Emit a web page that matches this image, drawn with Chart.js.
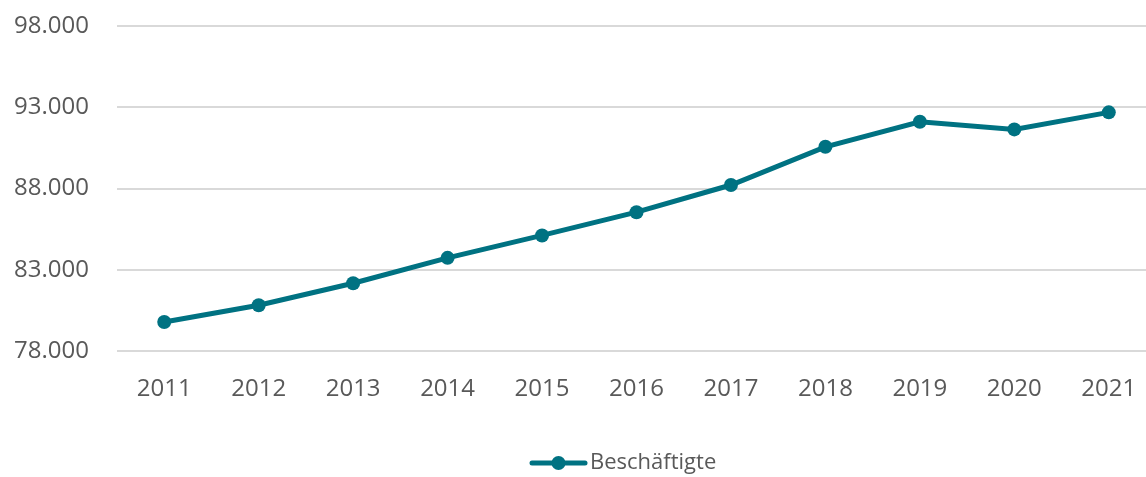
<!DOCTYPE html>
<html>
<head>
<meta charset="utf-8">
<script src="https://cdn.jsdelivr.net/npm/chart.js@4/dist/chart.umd.min.js"></script>
<style>
  html, body { margin: 0; padding: 0; background: #fff; overflow: hidden; }
</style>
</head>
<body>
<canvas id="chart" width="1163" height="477"></canvas>
<script>
// Beschäftigte per year
const years = ['2011','2012','2013','2014','2015','2016','2017','2018','2019','2020','2021'];
const employed = [79800, 80830, 82180, 83740, 85120, 86550, 88220, 90570, 92110, 91640, 92690];
const yTicks = [78000, 83000, 88000, 93000, 98000];
const seriesName = 'Beschäftigte';

const teal = '#007282';
const textGray = '#595959';
const fontFamily = '"Open Sans", "Noto Sans", sans-serif';

// move legend so its symbol starts where the original one does
const legendShift = {
  id: 'legendShift',
  afterUpdate(chart) {
    const lg = chart.legend;
    if (!lg || !lg.legendHitBoxes.length) return;
    const dx = 530 - lg.legendHitBoxes[0].left;
    const dy = 7;
    lg.left += dx;
    lg.right += dx;
    lg.top += dy;
    lg.bottom += dy;
    lg.legendHitBoxes.forEach(hb => { hb.left += dx; hb.top += dy; });
  }
};

// legend symbol: line with a round marker, drawn by hand
const legendMarker = {
  id: 'legendMarker',
  afterDraw(chart) {
    const lg = chart.legend;
    if (!lg || !lg.legendHitBoxes.length) return;
    const hb = lg.legendHitBoxes[0];
    const y = hb.top + hb.height / 2;
    const ctx = chart.ctx;
    ctx.save();
    ctx.strokeStyle = teal;
    ctx.lineWidth = 5;
    ctx.lineCap = 'round';
    ctx.beginPath();
    ctx.moveTo(hb.left + 2, y);
    ctx.lineTo(hb.left + 55, y);
    ctx.stroke();
    ctx.fillStyle = teal;
    ctx.beginPath();
    ctx.arc(hb.left + 28.5, y, 7, 0, Math.PI * 2);
    ctx.fill();
    ctx.restore();
  }
};

const ctx = document.getElementById('chart').getContext('2d');
new Chart(ctx, {
  type: 'line',
  data: {
    labels: years,
    datasets: [{
      label: seriesName,
      data: employed,
      borderColor: teal,
      backgroundColor: teal,
      borderWidth: 5,
      pointRadius: 7,
      pointHoverRadius: 7,
      pointBackgroundColor: teal,
      pointBorderWidth: 0,
      tension: 0,
      fill: false
    }]
  },
  options: {
    responsive: false,
    animation: false,
    devicePixelRatio: 1,
    layout: { padding: { top: 26, left: 13, right: 0, bottom: 0 } },
    plugins: {
      legend: {
        position: 'bottom',
        labels: {
          boxWidth: 49,
          boxHeight: 5,
          padding: 6,
          color: textGray,
          font: { family: fontFamily, size: 22 },
          generateLabels: () => [{
            text: seriesName,
            fillStyle: 'rgba(0,0,0,0)',
            strokeStyle: 'rgba(0,0,0,0)',
            fontColor: textGray,
            lineWidth: 0,
            datasetIndex: 0
          }]
        }
      },
      tooltip: { enabled: false }
    },
    scales: {
      x: {
        offset: true,
        grid: { display: false, drawTicks: false },
        border: { display: false },
        ticks: { color: textGray, font: { family: fontFamily, size: 24 }, padding: 24, maxRotation: 0 },
        afterFit: (axis) => { axis.height += 11; axis.paddingLeft = 0; axis.paddingRight = 0; }
      },
      y: {
        min: 78000,
        max: 98000,
        afterBuildTicks: (axis) => { axis.ticks = yTicks.map(v => ({ value: v })); },
        afterFit: (axis) => { axis.width = 104; axis.paddingTop = 0; axis.paddingBottom = 0; },
        grid: { color: '#d9d9d9', lineWidth: 2, drawTicks: false },
        border: { display: false },
        ticks: {
          color: textGray,
          font: { family: fontFamily, size: 24 },
          padding: 28,
          callback: (v) => v.toLocaleString('de-DE').replace(/,/g, '.')
        }
      }
    }
  },
  plugins: [legendShift, legendMarker]
});
</script>
</body>
</html>
